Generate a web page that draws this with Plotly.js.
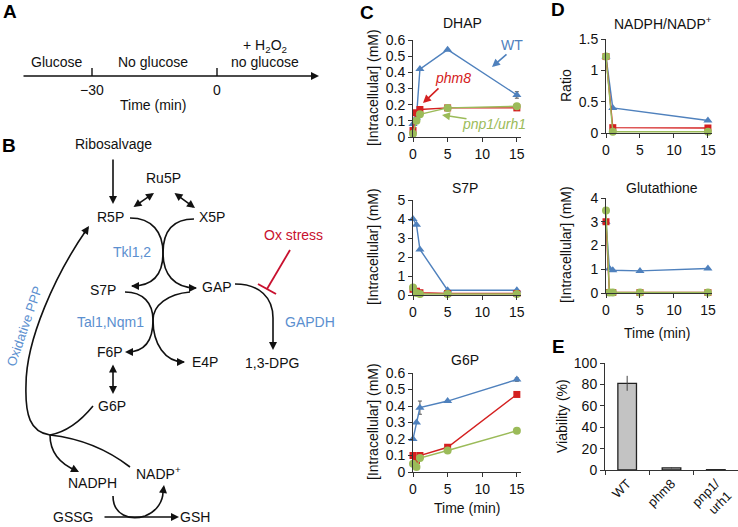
<!DOCTYPE html>
<html><head><meta charset="utf-8">
<script src="https://cdn.plot.ly/plotly-3.0.1.min.js"></script>
<style>html,body{margin:0;padding:0;background:#fff}#chart{width:738px;height:527px}</style>
</head><body><div id="chart"></div>
<script>
// ---------- data ----------
const timeC = [0, 0.5, 1, 5, 15];
const timeRatio = [0, 1, 15];
const dhapWT = [0.08, 0.12, 0.42, 0.54, 0.26];
const dhapPhm8 = [0.04, 0.15, 0.17, 0.18, 0.18];
const dhapPnp = [0.02, 0.10, 0.14, 0.18, 0.19];
const dhapWTErr = [0, 0, 0, 0, 0.02];
const s7pWT = [4.0, 3.7, 2.4, 0.25, 0.25];
const s7pPhm8 = [0.3, 0.2, 0.12, 0.08, 0.08];
const s7pPnp = [0.4, 0.1, 0.05, 0.05, 0.05];
const g6pWT = [0.2, 0.3, 0.39, 0.43, 0.56];
const g6pPhm8 = [0.1, 0.07, 0.1, 0.15, 0.47];
const g6pPnp = [0.05, 0.03, 0.085, 0.13, 0.25];
const g6pWTErr = [0, 0, 0.04, 0, 0.01];
const ratioWT = [1.22, 0.40, 0.20];
const ratioPhm8 = [1.22, 0.085, 0.08];
const ratioPnp = [1.22, 0.02, 0.02];
const glutWT = [3.0, 1.03, 0.96, 0.93, 1.03];
const glutPhm8 = [3.0, 0.02, 0.02, 0.02, 0.02];
const glutPnp = [3.47, 0.02, 0.02, 0.02, 0.02];
const strains = ['WT', 'phm8', 'pnp1/<br>urh1'];
const viability = [81, 2, 0.3];
const viabilityErr = [7, 0.5, 0];

// ---------- helpers ----------
const W = 738, H = 527;
const X = p => p / W;
const Y = p => 1 - p / H;
const BLUE = '#4f81bd', RED = '#d42020', GREEN = '#9bbb59';
const TXTBLUE = '#5b8fcf', OXRED = '#c8102e', INK = '#111';
const FONT = 'Liberation Sans, Arial, Helvetica, sans-serif';
const FS = 14;

function pp(str) {
  return str.replace(/(-?\d+(?:\.\d+)?),(-?\d+(?:\.\d+)?)/g,
    (m, a, b) => (a / W).toFixed(5) + ',' + (1 - b / H).toFixed(5));
}
const shapes = [];
const annotations = [];
function curve(str, color, width) {
  shapes.push({type: 'path', xref: 'paper', yref: 'paper', path: pp(str),
    line: {color: color || INK, width: width || 1.6}});
}
function seg(x1, y1, x2, y2, color, width) {
  shapes.push({type: 'line', xref: 'paper', yref: 'paper',
    x0: X(x1), y0: Y(y1), x1: X(x2), y1: Y(y2),
    line: {color: color || INK, width: width || 1.6}});
}
function arrow(x1, y1, x2, y2, both, color) {
  const a = {x: X(x2), y: Y(y2), xref: 'paper', yref: 'paper',
    ax: x1 - x2, ay: y1 - y2, axref: 'pixel', ayref: 'pixel',
    text: '', showarrow: true, arrowhead: 2, arrowsize: 1, arrowwidth: 1.6,
    arrowcolor: color || INK, standoff: 0, startstandoff: 0};
  if (both) { a.arrowside = 'end+start'; a.startarrowhead = 2; a.startarrowsize = 1; }
  annotations.push(a);
}
function text(px, py, t, opt) {
  annotations.push(Object.assign({x: X(px), y: Y(py), xref: 'paper', yref: 'paper',
    text: t, showarrow: false, xanchor: 'center', yanchor: 'middle',
    font: {family: FONT, size: FS, color: INK}}, opt || {}));
}
const f = (c, s) => ({font: {family: FONT, size: s || FS, color: c}});

// ---------- panel letters ----------
[['A', 10, 11], ['B', 9, 145], ['C', 367, 12], ['D', 558, 10], ['E', 558, 346]].forEach(l =>
  text(l[1], l[2], '<b>' + l[0] + '</b>', f('#000', 19)));

// ---------- panel A ----------
arrow(22, 76, 319, 76);
seg(92, 68, 92, 76, INK, 1.4);
seg(217, 68, 217, 76, INK, 1.4);
text(57, 62, 'Glucose');
text(153, 62, 'No glucose');
text(265, 46, '+ H<sub>2</sub>O<sub>2</sub>');
text(265, 62, 'no glucose');
text(92, 90, '\u221230');
text(217, 90, '0');
text(153, 105, 'Time (min)');

// ---------- panel B ----------
text(113, 144, 'Ribosalvage');
text(163, 178, 'Ru5P');
text(110, 217, 'R5P');
text(212, 217, 'X5P');
text(132, 252, 'Tkl1,2', f(TXTBLUE));
text(103, 290, 'S7P');
text(217, 287, 'GAP');
text(293, 235, 'Ox stress', f(OXRED));
text(310, 322, 'GAPDH', f(TXTBLUE));
text(110, 322, 'Tal1,Nqm1', f(TXTBLUE));
text(110, 352, 'F6P');
text(205, 362, 'E4P');
text(272, 363, '1,3-DPG');
text(112, 406, 'G6P');
text(92, 483, 'NADPH');
text(158, 473, 'NADP<sup>+</sup>');
text(73, 517, 'GSSG');
text(195, 517, 'GSH');
text(24, 326, 'Oxidative PPP', Object.assign({textangle: -71}, f(TXTBLUE, 13)));

arrow(113, 158, 113, 204);
arrow(132, 208, 154, 193, true);
arrow(173, 192, 195, 208, true);
// transketolase crossing
curve('M130,218 C152,218 163,232 163,253 C163,274 174,288 196,288');
arrow(189, 288, 197, 288);
curve('M194,219 C172,219 163,232 163,253 C163,274 153,286 132,286');
arrow(139, 286, 131, 286);
// transaldolase crossing
curve('M125,292 C143,292 153,303 153,320 C153,344 165,362 184,362');
arrow(177, 362, 185, 362);
curve('M190,292 C168,294 153,305 153,320 C153,340 146,352 127,352');
arrow(133, 352, 125, 352);
// GAPDH
curve('M235,284 C260,284 273,298 273,318 L273,346');
arrow(273, 342, 273, 350);
// Ox stress inhibition
seg(290, 250, 267, 289, OXRED, 1.8);
seg(258, 284, 276, 294, OXRED, 2);
// F6P <-> G6P
arrow(113, 363, 113, 394, true);
// oxidative branch
curve('M93,406 C80,422 66,432 50,435');
curve('M50,435 C30,432 25,415 26,385 C26,340 55,275 87,229');
arrow(83, 235, 89, 226);
curve('M50,435 C50,452 60,464 77,471');
arrow(71, 468, 79, 472);
curve('M50,435 Q95,440 130,467');
// GSSG -> GSH
arrow(103, 517, 179, 517);
curve('M113,496 C113,515 130,521 145,516 C158,511 163,500 163,492');
arrow(163, 493, 164, 485);

// ---------- panel C/D/E titles ----------
text(462, 23, 'DHAP');
text(465, 188, 'S7P');
text(465, 360, 'G6P');
text(663, 23, 'NADPH/NADP<sup>+</sup>');
text(662, 188, 'Glutathione');
const yt = Object.assign({textangle: -90}, f(INK));
text(373, 88, '[Intracellular] (mM)', yt);
text(373, 247, '[Intracellular] (mM)', yt);
text(373, 422, '[Intracellular] (mM)', yt);
text(566, 86, 'Ratio', yt);
text(566, 245, '[Intracellular] (mM)', yt);
text(562, 416, 'Viability (%)', yt);
text(467, 508, 'Time (min)');
text(657, 333, 'Time (min)');

// DHAP labels with arrows
text(512, 45, 'WT', f(BLUE));
arrow(508, 53, 492, 67, false, BLUE);
text(453, 78, '<i>phm8</i>', f(RED));
arrow(440, 87, 423, 103, false, RED);
text(494, 124, '<i>pnp1/urh1</i>', f(GREEN));
arrow(468, 119, 442, 115, false, GREEN);

// ---------- traces ----------
function series(x, y, color, symbol, size, xa, ya, err) {
  const t = {x: x, y: y, type: 'scatter', mode: 'lines+markers', xaxis: xa, yaxis: ya,
    line: {color: color, width: 1.4}, cliponaxis: false,
    marker: {color: color, symbol: symbol, size: size}, showlegend: false, hoverinfo: 'skip'};
  if (err) t.error_y = {type: 'data', array: err, visible: true, color: '#555', thickness: 1, width: 2};
  return t;
}
const data = [];
function trio(x, wt, ph, pn, xa, ya, wtErr) {
  data.push(series(x, wt, BLUE, 'triangle-up', 8, xa, ya, wtErr));
  data.push(series(x, ph, RED, 'square', 7, xa, ya));
  data.push(series(x, pn, GREEN, 'circle', 8, xa, ya));
}
trio(timeC, dhapWT, dhapPhm8, dhapPnp, 'x', 'y', dhapWTErr);
trio(timeC, s7pWT, s7pPhm8, s7pPnp, 'x2', 'y2');
trio(timeC, g6pWT, g6pPhm8, g6pPnp, 'x3', 'y3', g6pWTErr);
trio(timeRatio, ratioWT, ratioPhm8, ratioPnp, 'x4', 'y4');
trio(timeC, glutWT, glutPhm8, glutPnp, 'x5', 'y5');
data.push({x: strains, y: viability, type: 'bar', xaxis: 'x6', yaxis: 'y6', width: 0.42,
  marker: {color: '#c3c3c3', line: {color: '#222', width: 1.3}},
  error_y: {type: 'data', array: viabilityErr, visible: true, color: '#444', thickness: 1, width: 0},
  showlegend: false, hoverinfo: 'skip'});

// ---------- axes ----------
const TF = {family: FONT, size: 14, color: INK};
function xax(d0, d1, anchor, extra) {
  return Object.assign({domain: [X(d0), X(d1)], anchor: anchor, range: [0, 15.6], dtick: 5, tick0: 0,
    showline: true, linecolor: '#333', linewidth: 1, ticks: 'outside', ticklen: 4, tickcolor: '#333',
    showgrid: false, zeroline: false, tickfont: TF, fixedrange: true}, extra || {});
}
function yax(bottom, top, anchor, range, dtick, extra) {
  return Object.assign({domain: [Y(bottom), Y(top)], anchor: anchor, range: range, dtick: dtick, tick0: 0,
    showline: true, linecolor: '#333', linewidth: 1, ticks: 'outside', ticklen: 4, tickcolor: '#333',
    showgrid: false, zeroline: false, tickfont: TF, fixedrange: true}, extra || {});
}
const layout = {
  width: W, height: H, margin: {l: 0, r: 0, t: 0, b: 0, pad: 0},
  paper_bgcolor: '#fff', plot_bgcolor: 'rgba(0,0,0,0)', showlegend: false,
  font: {family: FONT, size: 13, color: INK},
  xaxis: xax(413, 521, 'y'), yaxis: yax(137, 40, 'x', [0, 0.6], 0.1),
  xaxis2: xax(413, 521, 'y2'), yaxis2: yax(295, 200, 'x2', [0, 5], 1),
  xaxis3: xax(413, 521, 'y3'), yaxis3: yax(472, 373, 'x3', [0, 0.6], 0.1),
  xaxis4: xax(606, 712, 'y4'), yaxis4: yax(133, 39, 'x4', [0, 1.5], 0.5),
  xaxis5: xax(606, 712, 'y5'), yaxis5: yax(293, 198, 'x5', [0, 4], 1),
  xaxis6: {domain: [X(605), X(738)], anchor: 'y6', range: [-0.5, 2.5], type: 'category',
    showline: true, linecolor: '#333', ticks: 'outside', ticklen: 4, tickcolor: '#333', tickangle: -45,
    tickson: 'boundaries', showgrid: false, zeroline: false,
    tickfont: {family: FONT, size: 13, color: INK}, fixedrange: true},
  yaxis6: yax(470, 363, 'x6', [0, 100], 20),
  shapes: shapes, annotations: annotations
};
Plotly.newPlot('chart', data, layout, {staticPlot: true, displayModeBar: false});
</script></body></html>
